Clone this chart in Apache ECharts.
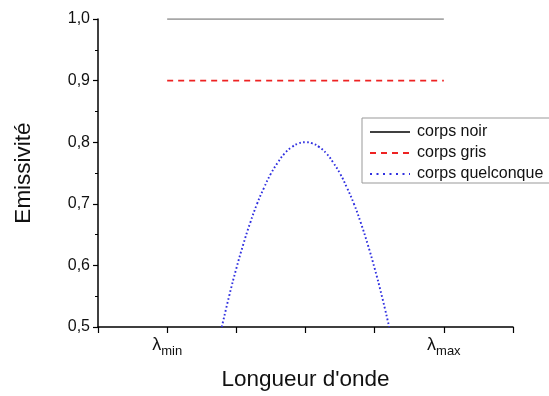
<!DOCTYPE html>
<html>
<head>
<meta charset="utf-8">
<script src="https://cdn.jsdelivr.net/npm/echarts@6/dist/echarts.min.js"></script>
<style>html,body{margin:0;padding:0;background:#fff;}#chart{width:549px;height:396px;}</style>
</head>
<body>
<div id="chart"></div>
<script>
// ---- data ----
const seriesNames = ['corps noir', 'corps gris', 'corps quelconque'];
const lineX = [1, 5];
const noirY = [1.0, 1.0];
const grisY = [0.9, 0.9];
const quelX = [1.79, 1.9, 2.0, 2.1, 2.2, 2.3, 2.4, 2.5, 2.6, 2.7, 2.8, 2.9, 3.0, 3.1, 3.2, 3.3, 3.4, 3.5, 3.6, 3.7, 3.8, 3.9, 4.0, 4.1, 4.21];
const quelY = [0.50, 0.552, 0.595, 0.634, 0.669, 0.700, 0.726, 0.749, 0.767, 0.782, 0.792, 0.798, 0.800, 0.798, 0.792, 0.782, 0.767, 0.749, 0.726, 0.700, 0.669, 0.634, 0.595, 0.552, 0.50];
const xTickLabels = {1: 'min', 5: 'max'};
const yTickLabels = ['0,5', '0,6', '0,7', '0,8', '0,9', '1,0'];

const pairs = (xs, ys) => xs.map((x, i) => [x, ys[i]]);
const FONT = "'Liberation Sans', Arial, sans-serif";

const chart = echarts.init(document.getElementById('chart'), null, {renderer: 'canvas'});
chart.setOption({
  animation: false,
  backgroundColor: '#fff',
  textStyle: {fontFamily: FONT},
  grid: {left: 98, right: 36, top: 19, bottom: 69, containLabel: false},
  legend: {
    orient: 'vertical',
    left: 362, top: 118,
    padding: [6, 12, 1, 7],
    itemGap: 5,
    itemWidth: 40,
    itemHeight: 10,
    borderColor: '#999',
    borderWidth: 1,
    itemStyle: {opacity: 0},
    textStyle: {fontFamily: FONT, fontSize: 16, color: '#111', lineHeight: 16, padding: [0, 0, 0, 2]},
    data: [
      {name: seriesNames[0], lineStyle: {color: '#000', width: 1.5, opacity: 1}, itemStyle: {opacity: 0}},
      {name: seriesNames[1], lineStyle: {opacity: 1}, itemStyle: {opacity: 0}},
      {name: seriesNames[2], lineStyle: {opacity: 1, width: 2, type: [2, 4.5]}, itemStyle: {opacity: 0}}
    ]
  },
  xAxis: {
    type: 'value', min: 0, max: 6, interval: 1,
    name: "Longueur d'onde", nameLocation: 'middle', nameGap: 41,
    nameTextStyle: {fontFamily: FONT, fontSize: 22.5, color: '#111'},
    axisLine: {onZero: false, lineStyle: {color: '#000', width: 1.5}},
    axisTick: {length: 6, lineStyle: {color: '#000', width: 1.2}},
    splitLine: {show: false},
    axisLabel: {
      margin: 6,
      formatter: v => xTickLabels[v] ? '{l|λ}{s|' + xTickLabels[v] + '}' : '',
      rich: {
        l: {fontFamily: FONT, fontSize: 18, color: '#111'},
        s: {fontFamily: FONT, fontSize: 13, color: '#111', padding: [12, 0, 0, 0]}
      }
    }
  },
  yAxis: {
    type: 'value', min: 0.5, max: 1.0, interval: 0.1,
    name: 'Emissivité', nameLocation: 'middle', nameGap: 63, nameRotate: 90,
    nameTextStyle: {fontFamily: FONT, fontSize: 22.5, color: '#111'},
    axisLine: {show: true, lineStyle: {color: '#000', width: 1.5}},
    axisTick: {show: true, length: 5, lineStyle: {color: '#000', width: 1.2}},
    minorTick: {show: true, splitNumber: 2, length: 3, lineStyle: {color: '#000', width: 1}},
    splitLine: {show: false},
    axisLabel: {
      margin: 8, fontFamily: FONT, fontSize: 16, color: '#111',
      formatter: v => yTickLabels[Math.round((v - 0.5) * 10)]
    }
  },
  series: [
    {
      name: seriesNames[0], type: 'line', data: pairs(lineX, noirY),
      symbol: 'none', lineStyle: {color: '#8a8a8a', width: 1.6}, itemStyle: {color: '#000'}
    },
    {
      name: seriesNames[1], type: 'line', data: pairs(lineX, grisY),
      symbol: 'none', lineStyle: {color: '#ee2222', width: 1.6, type: [6, 5]}, itemStyle: {color: '#ee2222'}
    },
    {
      name: seriesNames[2], type: 'line', data: pairs(quelX, quelY), smooth: true,
      symbol: 'none', lineStyle: {color: '#3030e0', width: 1.9, type: [1.7, 2.3]}, itemStyle: {color: '#3030e0'}
    }
  ]
});
</script>
</body>
</html>
